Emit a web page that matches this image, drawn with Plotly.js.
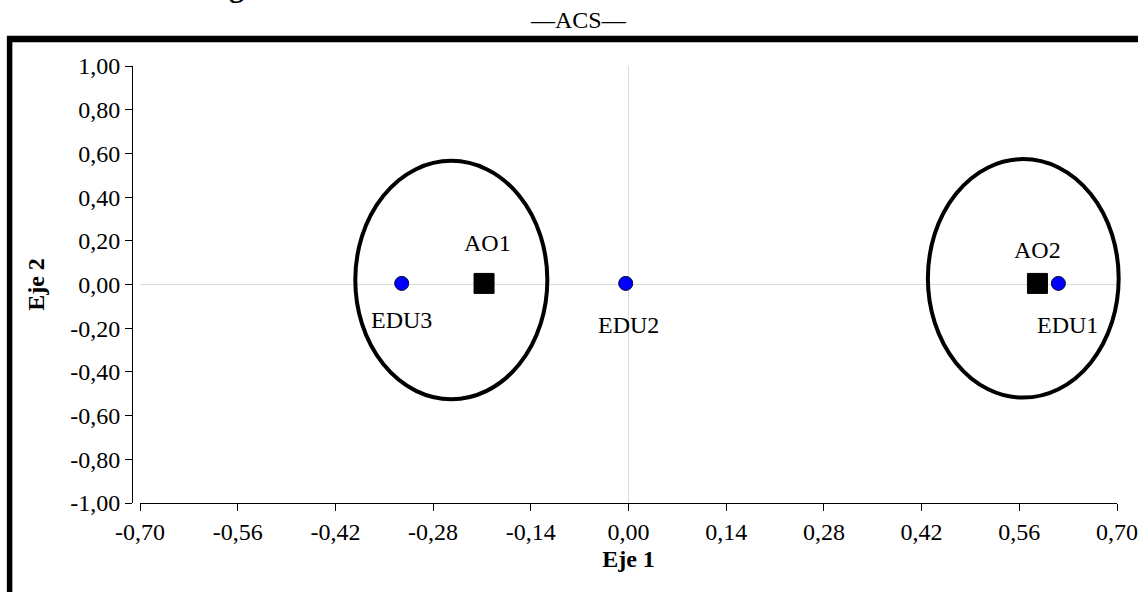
<!DOCTYPE html>
<html>
<head>
<meta charset="utf-8">
<script src="https://cdn.plot.ly/plotly-3.0.1.min.js"></script>
<style>html,body{margin:0;padding:0;background:#fff;}#chart{width:1138px;height:592px;}</style>
</head>
<body>
<div id="chart"></div>
<script>
// ---- data ----
const eduLabels = ['EDU1', 'EDU2', 'EDU3'];
const eduX = [0.616, -0.004, -0.325];
const eduY = [0.005, 0.005, 0.005];

const aoLabels = ['AO1', 'AO2'];
const aoX = [-0.207, 0.586];
const aoY = [0.005, 0.005];

// cluster ellipses (data coordinates)
const ellX0 = [-0.3915, 0.429];
const ellX1 = [-0.1163, 0.7024];
const ellY0 = [-0.525, -0.5175];
const ellY1 = [0.566, 0.574];

const xTickVals = [-0.70, -0.56, -0.42, -0.28, -0.14, 0.00, 0.14, 0.28, 0.42, 0.56, 0.70];
const xTickText = ['-0,70', '-0,56', '-0,42', '-0,28', '-0,14', '0,00', '0,14', '0,28', '0,42', '0,56', '0,70'];
const yTickVals = [-1.00, -0.80, -0.60, -0.40, -0.20, 0.00, 0.20, 0.40, 0.60, 0.80, 1.00];
const yTickText = ['-1,00', '-0,80', '-0,60', '-0,40', '-0,20', '0,00', '0,20', '0,40', '0,60', '0,80', '1,00'];

const xRange = [-0.7, 0.7];
const yRange = [-1, 1];

// label offsets (pixels, style only)
const eduShiftX = [9, 3, 0];
const eduShiftY = [-27, -27, -22];
const aoShiftX = [3, 0];
const aoShiftY = [25, 18];

// ---- layout geometry ----
const W = 1138, H = 592;
const M = {l: 132, r: 21, t: 66, b: 89};
const PW = W - M.l - M.r, PH = H - M.t - M.b;
const px = v => (v - M.l) / PW;
const py = v => (H - M.b - v) / PH;
const xDomain = [(140 - M.l) / PW, 1];
// data -> paper (so the ellipses are not clipped at the plot edge)
const dxToPaper = v => xDomain[0] + (v - xRange[0]) / (xRange[1] - xRange[0]) * (xDomain[1] - xDomain[0]);
const dyToPaper = v => (v - yRange[0]) / (yRange[1] - yRange[0]);
const FONT = 'Liberation Serif, Times New Roman, serif';

const traces = [
  {
    type: 'scatter', mode: 'markers', x: aoX, y: aoY, text: aoLabels, hoverinfo: 'text',
    marker: {symbol: 'square', size: 20, color: '#000000', line: {color: '#000000', width: 1}}
  },
  {
    type: 'scatter', mode: 'markers', x: eduX, y: eduY, text: eduLabels, hoverinfo: 'text',
    marker: {symbol: 'circle', size: 14, color: '#0000ff', line: {color: '#000033', width: 1}}
  }
];

const annotations = [];
eduLabels.forEach((t, i) => annotations.push({
  x: eduX[i], y: eduY[i], xref: 'x', yref: 'y', text: t, showarrow: false,
  xanchor: 'center', yanchor: 'top', xshift: eduShiftX[i], yshift: eduShiftY[i],
  font: {family: FONT, size: 24, color: '#000'}
}));
aoLabels.forEach((t, i) => annotations.push({
  x: aoX[i], y: aoY[i], xref: 'x', yref: 'y', text: t, showarrow: false,
  xanchor: 'center', yanchor: 'bottom', xshift: aoShiftX[i], yshift: aoShiftY[i],
  font: {family: FONT, size: 24, color: '#000'}
}));
annotations.push({
  xref: 'paper', yref: 'paper', x: px(578), y: py(34.5), xanchor: 'center', yanchor: 'bottom',
  text: '—ACS—', showarrow: false, font: {family: FONT, size: 24, color: '#000'}
});
annotations.push({
  xref: 'paper', yref: 'paper', x: px(236.5), y: py(5.5), xanchor: 'center', yanchor: 'bottom',
  text: '<b>g</b>', showarrow: false, font: {family: FONT, size: 30, color: '#000'}
});

const shapes = [];
for (let i = 0; i < ellX0.length; i++) {
  shapes.push({type: 'circle', xref: 'paper', yref: 'paper',
    x0: dxToPaper(ellX0[i]), x1: dxToPaper(ellX1[i]), y0: dyToPaper(ellY0[i]), y1: dyToPaper(ellY1[i]),
    line: {color: '#000', width: 4}, fillcolor: 'rgba(0,0,0,0)', layer: 'above'});
}
// page frame
shapes.push({type: 'line', xref: 'paper', yref: 'paper', x0: px(9.6), x1: px(9.6), y0: py(36), y1: py(620),
  line: {color: '#000', width: 5.5}});
shapes.push({type: 'line', xref: 'paper', yref: 'paper', x0: px(7), x1: px(1160), y0: py(39), y1: py(39),
  line: {color: '#000', width: 6.5}});

const layout = {
  width: W, height: H,
  margin: M,
  paper_bgcolor: '#fff', plot_bgcolor: '#fff',
  showlegend: false,
  font: {family: FONT, size: 24, color: '#000'},
  xaxis: {
    domain: xDomain,
    range: xRange,
    tickvals: xTickVals, ticktext: xTickText,
    ticks: 'outside', ticklen: 7, tickwidth: 1, tickcolor: '#000',
    showline: true, linecolor: '#000', linewidth: 1,
    showgrid: false,
    zeroline: true, zerolinecolor: '#dcdcdc', zerolinewidth: 1,
    tickfont: {family: FONT, size: 24, color: '#000'},
    title: {text: '<b>Eje 1</b>', font: {family: FONT, size: 24, color: '#000'}, standoff: 6},
    fixedrange: true
  },
  yaxis: {
    anchor: 'free', position: 0,
    range: yRange,
    tickvals: yTickVals, ticktext: yTickText,
    ticks: 'outside', ticklen: 7, tickwidth: 1, tickcolor: '#000',
    showline: true, linecolor: '#000', linewidth: 1,
    showgrid: false,
    zeroline: true, zerolinecolor: '#dcdcdc', zerolinewidth: 1,
    tickfont: {family: FONT, size: 24, color: '#000'},
    title: {text: '<b>Eje 2</b>', font: {family: FONT, size: 24, color: '#000'}, standoff: 17},
    fixedrange: true
  },
  annotations: annotations,
  shapes: shapes
};

Plotly.newPlot('chart', traces, layout, {staticPlot: true, displayModeBar: false});
</script>
</body>
</html>
